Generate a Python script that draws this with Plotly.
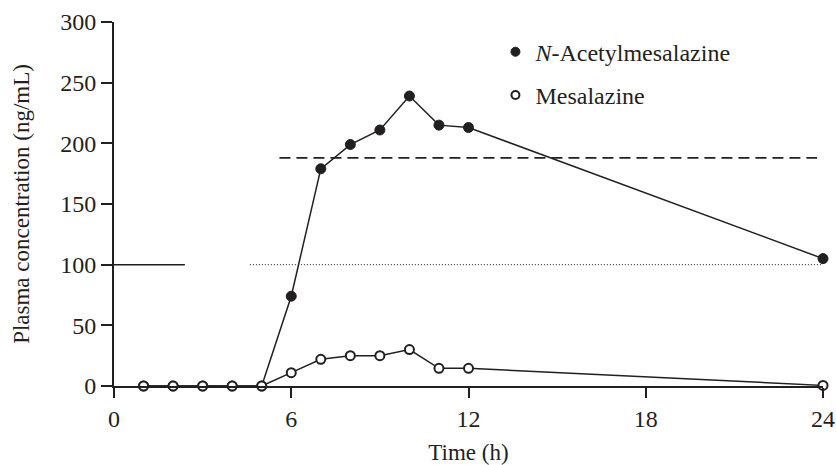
import plotly.graph_objects as go

# Data
time_h = [1, 2, 3, 4, 5, 6, 7, 8, 9, 10, 11, 12, 24]
n_acetyl = [0, 0, 0, 0, 0, 74, 179, 199, 211, 239, 215, 213, 105]
mesalazine = [0, 0, 0, 0, 0, 11, 22, 25, 25, 30, 14.6, 14.6, 0.5]

x_ticks = [0, 6, 12, 18, 24]
y_ticks = [0, 50, 100, 150, 200, 250, 300]

# reference lines: (y, x0, x1)
solid_ref = (100, 0, 2.4)
dotted_ref = (100, 4.6, 24)
dashed_ref = (188, 5.6, 23.8)

INK = "#231f20"
FONT = "Liberation Serif"

fig = go.Figure()

fig.add_trace(go.Scatter(
    x=time_h, y=n_acetyl, mode="lines+markers", showlegend=False,
    line=dict(color=INK, width=1.5),
    marker=dict(symbol="circle", size=10, color=INK, line=dict(color=INK, width=1)),
    cliponaxis=False))
fig.add_trace(go.Scatter(
    x=time_h, y=mesalazine, mode="lines+markers", showlegend=False,
    line=dict(color=INK, width=1.5),
    marker=dict(symbol="circle", size=9, color="white", line=dict(color=INK, width=2)),
    cliponaxis=False))

# legend-only entries
fig.add_trace(go.Scatter(
    x=[None], y=[None], mode="markers", name="<i>N</i>-Acetylmesalazine",
    legendgroup="a",
    marker=dict(symbol="circle", size=9, color=INK, line=dict(color=INK, width=1))))
fig.add_trace(go.Scatter(
    x=[None], y=[None], mode="markers", name="Mesalazine",
    legendgroup="b",
    marker=dict(symbol="circle", size=8, color="white", line=dict(color=INK, width=2))))

for (yv, x0, x1), dash, w in [(solid_ref, "solid", 1.5),
                              (dotted_ref, "1px,2px", 1),
                              (dashed_ref, "11px,6px", 1.8)]:
    fig.add_shape(type="line", xref="x", yref="y", x0=x0, x1=x1, y0=yv, y1=yv,
                  line=dict(color=INK, width=w, dash=dash), layer="below")

fig.update_layout(
    width=836, height=465,
    margin=dict(l=114, r=13, t=22, b=79),
    paper_bgcolor="white", plot_bgcolor="white",
    font=dict(family=FONT, size=23, color=INK),
    legend=dict(x=0.538, y=0.979, xanchor="left", yanchor="top",
                bgcolor="rgba(0,0,0,0)", font=dict(size=24),
                traceorder="grouped", tracegroupgap=9,
                itemwidth=30),
    xaxis=dict(range=[0, 24], tickvals=x_ticks, ticktext=[str(v) for v in x_ticks],
               showline=True, linecolor=INK, linewidth=2, showgrid=False, zeroline=False,
               ticks="outside", ticklen=10, tickwidth=1.5, tickcolor=INK, automargin=False,
               tickfont=dict(size=24), title=dict(text="Time (h)", font=dict(size=23), standoff=14)),
    yaxis=dict(range=[0, 300], tickvals=y_ticks, ticktext=[str(v) for v in y_ticks],
               showline=True, linecolor=INK, linewidth=2, showgrid=False, zeroline=False,
               ticks="outside", ticklen=11, tickwidth=1.5, tickcolor=INK, automargin=False,
               tickfont=dict(size=24), title=dict(text="Plasma concentration (ng/mL)", font=dict(size=23), standoff=24)),
)

fig.write_html("out.html", config={"displayModeBar": False},
               post_script="document.body.style.margin='0';document.body.style.overflow='hidden';")
